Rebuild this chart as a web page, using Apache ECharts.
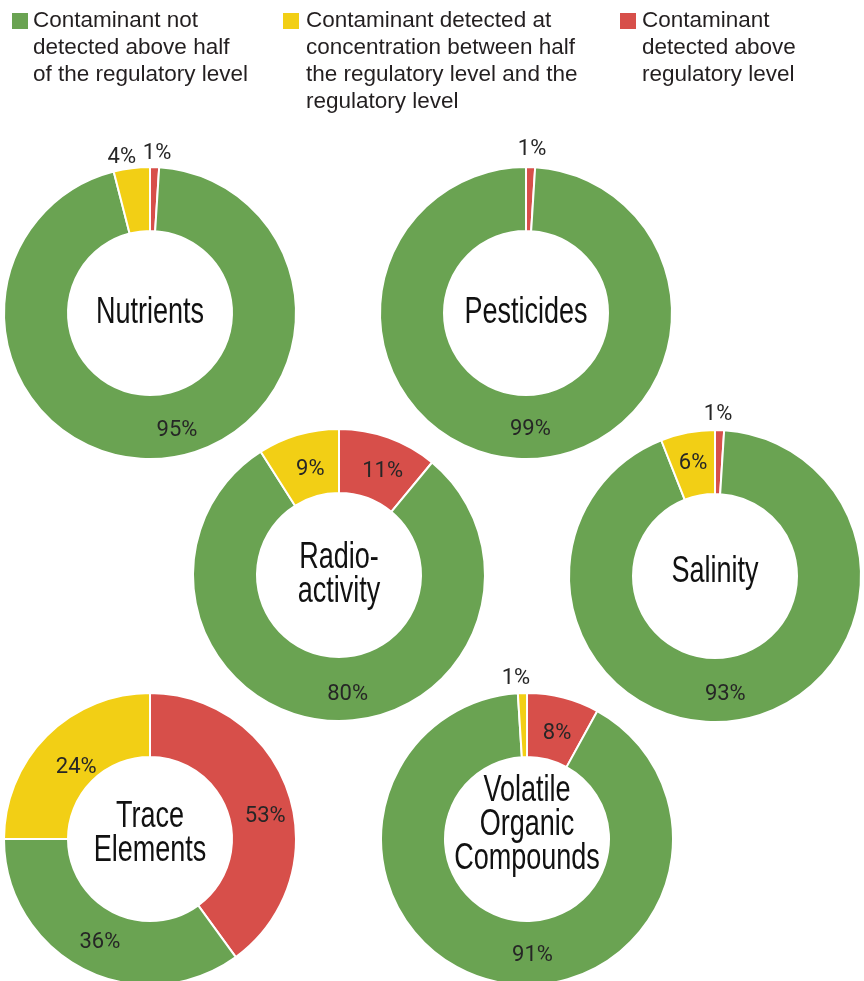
<!DOCTYPE html>
<html>
<head>
<meta charset="utf-8">
<script src="https://cdn.jsdelivr.net/npm/echarts@6/dist/echarts.min.js"></script>
<style>
  html, body { margin: 0; padding: 0; background: #ffffff; }
  #chart { width: 864px; height: 981px; }
</style>
</head>
<body>
<div id="chart"></div>
<script>
// ---- Data ----
const groups = ['Nutrients', 'Pesticides', 'Radio-\nactivity', 'Salinity', 'Trace\nElements', 'Volatile\nOrganic\nCompounds'];
const categories = [
  'Contaminant detected above regulatory level',
  'Contaminant not detected above half of the regulatory level',
  'Contaminant detected at concentration between half the regulatory level and the regulatory level'
];
// Percent labels printed on the slices
const pctAbove       = [1, 1, 11, 1, 53, 8];
const pctNotDetected = [95, 99, 80, 93, 36, 91];
const pctBetween     = [4, 0, 9, 6, 24, 1];
// Slice shares as drawn (Trace Elements arcs are drawn ~40/35/25)
const arcAbove       = [1, 1, 11, 1, 40, 8];
const arcNotDetected = [95, 99, 80, 93, 35, 91];
const arcBetween     = [4, 0, 9, 6, 25, 1];

// ---- Style / layout ----
const colors = { above: '#D74F4A', not: '#6AA352', between: '#F2CF15' };
const centers = [[150, 313], [526, 313], [339, 575], [715, 576], [150, 839], [527, 839]];
const radius = [82, 146];
const centerTextDy = [0, 0, 0, -4, -5, -14];
// small label nudges [dx, dy] per donut, per slice (above, not detected, between)
const labelNudge = [
  [[2, 1], [16, 1], [-8, 4]],
  [[1, -3], [8, 0], [0, 0]],
  [[4, 7], [16, 3], [4, 7]],
  [[-2, -1], [-8, 3], [0, 2]],
  [[4, 14], [3, -1], [9, 11]],
  [[1, 8], [31, 2], [-6, 0]]
];
const labelFont = "Roboto, 'Liberation Sans', sans-serif";
const centerFont = "'Liberation Sans', Arial, sans-serif";

function item(name, value, pct, color) {
  const d = { name: name, value: value, pct: pct, itemStyle: { color: color } };
  if (value === 0) {
    d.label = { show: false };
  } else if (pct < 5) {
    d.label = { position: 'outside' };
  }
  return d;
}

const series = groups.map((g, i) => ({
  type: 'pie',
  name: g,
  center: centers[i],
  radius: radius,
  startAngle: 90,
  clockwise: true,
  avoidLabelOverlap: false,
  silent: true,
  itemStyle: { borderColor: '#ffffff', borderWidth: 2 },
  label: {
    show: true,
    position: 'inside',
    formatter: p => p.data.pct + '%',
    fontFamily: labelFont,
    fontSize: 22,
    color: '#262626',
    distanceToLabelLine: 0
  },
  labelLine: { show: false, length: 15, length2: 0 },
  labelLayout: p => ({
    align: 'center',
    verticalAlign: 'middle',
    dx: labelNudge[p.seriesIndex][p.dataIndex][0],
    dy: labelNudge[p.seriesIndex][p.dataIndex][1]
  }),
  data: [
    item(categories[0], arcAbove[i], pctAbove[i], colors.above),
    item(categories[1], arcNotDetected[i], pctNotDetected[i], colors.not),
    item(categories[2], arcBetween[i], pctBetween[i], colors.between)
  ]
}));

const centerTexts = groups.map((g, i) => ({
  type: 'text',
  x: centers[i][0],
  y: centers[i][1] + centerTextDy[i],
  scaleX: 0.73,
  silent: true,
  style: {
    text: g,
    align: 'center',
    verticalAlign: 'middle',
    fontFamily: centerFont,
    fontSize: 37,
    lineHeight: 34,
    fill: '#111111'
  }
}));

const legendFont = "'Liberation Sans', Arial, sans-serif";
const legendItems = [
  { x: 12, textX: 33, color: colors.not, text: 'Contaminant not\ndetected above half\nof the regulatory level' },
  { x: 283, textX: 306, color: colors.between, text: 'Contaminant detected at\nconcentration between half\nthe regulatory level and the\nregulatory level' },
  { x: 620, textX: 642, color: colors.above, text: 'Contaminant\ndetected above\nregulatory level' }
];
const legendGraphics = [];
legendItems.forEach(l => {
  legendGraphics.push({ type: 'rect', shape: { x: l.x, y: 13, width: 16, height: 16 }, style: { fill: l.color }, silent: true });
  legendGraphics.push({
    type: 'text', x: l.textX, y: 7, silent: true,
    style: { text: l.text, fontFamily: legendFont, fontSize: 22.5, lineHeight: 27, verticalAlign: 'top', fill: '#231f20' }
  });
});

const chart = echarts.init(document.getElementById('chart'), null, { renderer: 'canvas' });
chart.setOption({
  backgroundColor: '#ffffff',
  animation: false,
  series: series,
  graphic: { elements: legendGraphics.concat(centerTexts) }
});
</script>
</body>
</html>
